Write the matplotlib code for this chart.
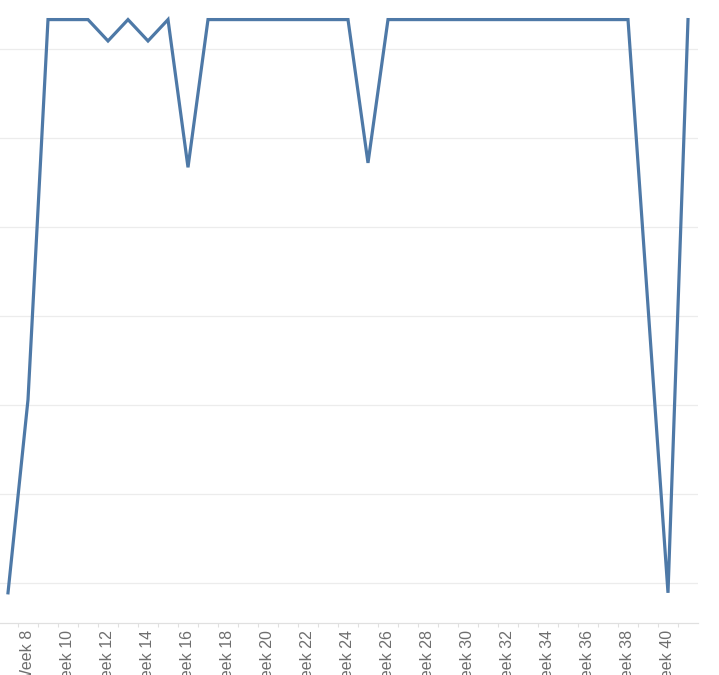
import matplotlib
matplotlib.use("Agg")
import matplotlib.pyplot as plt

# weekly values (week 39 has no data point)
weeks = [7, 8, 9, 10, 11, 12, 13, 14, 15, 16, 17, 18, 19, 20, 21, 22, 23, 24,
         25, 26, 27, 28, 29, 30, 31, 32, 33, 34, 35, 36, 37, 38, 40, 41]
values = [8.9, 30.6, 73.3, 73.3, 73.3, 70.9, 73.3, 70.9, 73.3, 56.7, 73.3,
          73.3, 73.3, 73.3, 73.3, 73.3, 73.3, 73.3, 57.2, 73.3, 73.3, 73.3,
          73.3, 73.3, 73.3, 73.3, 73.3, 73.3, 73.3, 73.3, 73.3, 73.3, 8.9, 73.3]
label_weeks = list(range(8, 41, 2))
grid_values = [10, 20, 30, 40, 50, 60, 70]

W, H = 719, 675
fig = plt.figure(figsize=(W / 100, H / 100), dpi=100)
ax = fig.add_axes([-2 / W, (H - 623) / H, 700 / W, 623 / H])

ax.plot(weeks, values, color="#4e79a7", lw=2.3, solid_joinstyle="miter")

ax.set_xlim(6.5, 41.5)
ax.set_ylim(5.51, 75.5)

ax.set_yticks(grid_values)
ax.set_yticklabels([])
ax.tick_params(axis="y", length=0)
ax.grid(axis="y", color="#ececec", lw=0.9)
ax.set_axisbelow(True)

ax.set_xticks(label_weeks)
ax.set_xticklabels([f"Week {w}" for w in label_weeks], rotation=90,
                   color="#6e6e6e", fontsize=11.5, fontfamily="Liberation Sans")
ax.set_xticks([w + 0.5 for w in range(7, 41)], minor=True)
ax.tick_params(axis="x", which="major", length=0, pad=5)
ax.tick_params(axis="x", which="minor", length=3, color="#e0e0e0", width=0.8)

for s in ["top", "right", "left"]:
    ax.spines[s].set_visible(False)
ax.spines["bottom"].set_color("#e0e0e0")
ax.spines["bottom"].set_linewidth(0.9)

fig.savefig("out.png", dpi=100)
